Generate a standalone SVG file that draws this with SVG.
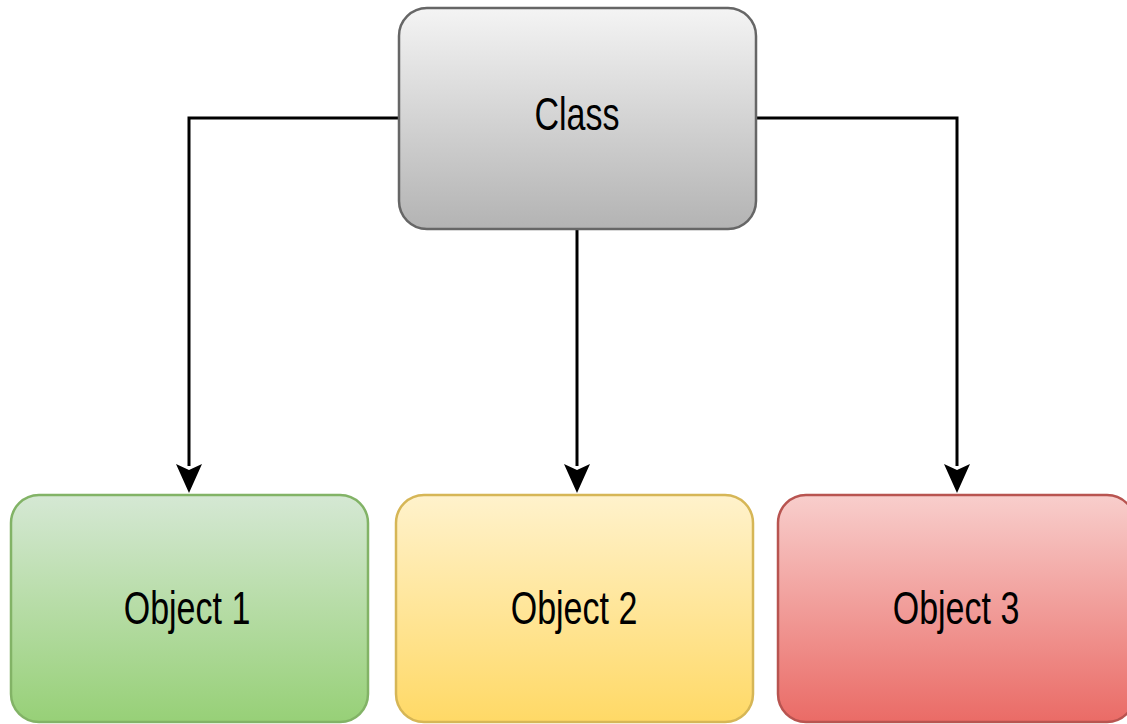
<svg xmlns="http://www.w3.org/2000/svg" width="1127" height="724" viewBox="0 0 1127 724">
<style>
.box{stroke-width:2.5}
.lbl{font-family:"Liberation Sans",Arial,sans-serif;font-size:34px;text-anchor:middle;fill:#000}
.conn{fill:none;stroke:#000;stroke-width:3}
</style>
<defs>
<linearGradient id="gGray" x1="0" y1="0" x2="0" y2="1"><stop offset="0" stop-color="#f4f4f4"/><stop offset="1" stop-color="#b3b3b3"/></linearGradient>
<linearGradient id="gGreen" x1="0" y1="0" x2="0" y2="1"><stop offset="0" stop-color="#d5e8d4"/><stop offset="1" stop-color="#97d077"/></linearGradient>
<linearGradient id="gYellow" x1="0" y1="0" x2="0" y2="1"><stop offset="0" stop-color="#fff2cc"/><stop offset="1" stop-color="#ffd966"/></linearGradient>
<linearGradient id="gRed" x1="0" y1="0" x2="0" y2="1"><stop offset="0" stop-color="#f8cecc"/><stop offset="1" stop-color="#ea6b66"/></linearGradient>
<marker id="arr" markerUnits="userSpaceOnUse" markerWidth="26" markerHeight="30" refX="13" refY="28" orient="auto-start-reverse" viewBox="0 0 26 30">
<path d="M0,0 L13,6 L26,0 L13,28 Z" fill="#000"/>
</marker>
</defs>
<g id="connectors">
<path class="conn" d="M399,118 H189 V466"/>
<path class="conn" d="M577,229 V466"/>
<path class="conn" d="M756,118 H957 V466"/>
<path d="M176,464 L189,470 L202,464 L189,493 Z" fill="#000"/>
<path d="M564,464 L577,470 L590,464 L577,493 Z" fill="#000"/>
<path d="M944,464 L957,470 L970,464 L957,493 Z" fill="#000"/>
</g>
<g id="class">
<rect class="box" x="399" y="8" width="357" height="221" rx="28" fill="url(#gGray)" stroke="#666"/>
<text class="lbl" transform="translate(577,130) scale(1,1.37)">Class</text>
</g>
<g id="object1">
<rect class="box" x="11" y="495" width="357" height="227" rx="28" fill="url(#gGreen)" stroke="#82b366"/>
<text class="lbl" transform="translate(187,624) scale(1,1.37)">Object 1</text>
</g>
<g id="object2">
<rect class="box" x="396" y="495" width="357" height="227" rx="28" fill="url(#gYellow)" stroke="#d6b656"/>
<text class="lbl" transform="translate(574,624) scale(1,1.37)">Object 2</text>
</g>
<g id="object3">
<rect class="box" x="778" y="495" width="357" height="227" rx="28" fill="url(#gRed)" stroke="#b85450"/>
<text class="lbl" transform="translate(956,624) scale(1,1.37)">Object 3</text>
</g>
</svg>
